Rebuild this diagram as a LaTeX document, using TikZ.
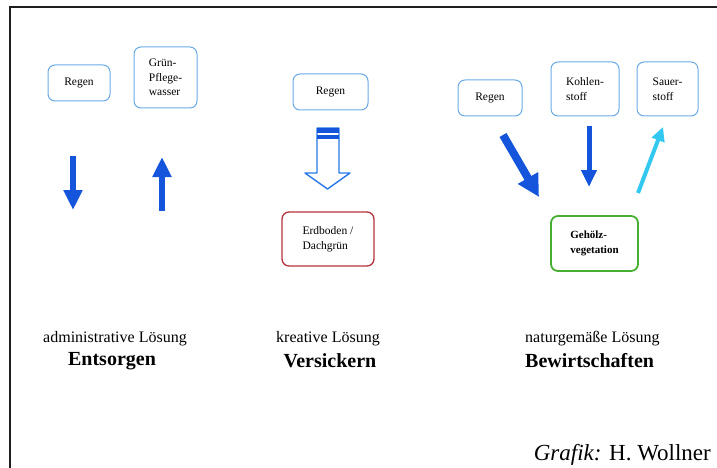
\documentclass[tikz,border=0pt]{standalone}
\usepackage{fontspec}
\setmainfont{Liberation Serif}
\usepackage{tikz}
\usetikzlibrary{arrows.meta}
\definecolor{framegray}{RGB}{30,30,30}
\definecolor{boxblue}{RGB}{105,170,230}
\definecolor{soilred}{RGB}{180,50,60}
\definecolor{woodgreen}{RGB}{70,175,50}
\definecolor{flowblue}{RGB}{20,85,220}
\definecolor{airblue}{RGB}{50,200,240}
\definecolor{seepblue}{RGB}{40,120,235}

\begin{document}
\begin{tikzpicture}[
  x=1pt, y=-1pt,
  box/.style={draw=boxblue, line width=1pt, rounded corners=7pt, align=left,
              inner sep=0pt, font=\fontsize{11.5}{14.5}\selectfont},
  soil/.style={box, draw=soilred, line width=1.3pt},
  wood/.style={box, draw=woodgreen, line width=1.8pt, font=\fontsize{11}{14.5}\selectfont\bfseries},
  kind/.style={font=\fontsize{16}{19}\selectfont},
  verb/.style={font=\fontsize{20}{23}\selectfont\bfseries},
  fatarr/.style={-{Triangle[width=18pt,length=20pt]}, line width=6pt, flowblue},
]
\useasboundingbox (0,0) rectangle (717,468);
\draw[line width=2pt, framegray] (717,7) -- (10,7) -- (10,468);

% Column 1 — Entsorgen
\node[box, minimum width=62pt, minimum height=36pt] (regenA) at (79,83) {Regen};
\node[box, minimum width=63pt, minimum height=61pt] (pflege) at (165.5,77.5) {Grün-\\Pflege-\\wasser};
\coordinate (outTop) at (73,156);
\coordinate (outBot) at (73,210);
\coordinate (inBot) at (162,211);
\coordinate (inTop) at (162,157);
\draw[fatarr] (outTop) -- (outBot);
\draw[fatarr] (inBot) -- (inTop);

% Column 2 — Versickern
\node[box, minimum width=75pt, minimum height=36pt] (regenB) at (330.5,92) {Regen};
\node[soil, minimum width=92pt, minimum height=54pt] (erdboden) at (328,239) {Erdboden /\\Dachgrün};
\draw[seepblue, line width=1.4pt, line join=round, fill=white]
  (317,128) -- (339,128) -- (339,173) -- (350,173) -- (327.5,189)
  -- (305,173) -- (317,173) -- cycle;
\fill[flowblue] (317,128) rectangle (339,133);
\fill[flowblue] (317,135.5) rectangle (339,138.5);

% Column 3 — Bewirtschaften
\node[box, minimum width=64pt, minimum height=36pt] (regenC) at (490,98) {Regen};
\node[box, minimum width=68pt, minimum height=54pt] (kohle) at (585,89) {Kohlen-\\stoff};
\node[box, minimum width=61pt, minimum height=54pt] (sauer) at (667.5,89) {Sauer-\\stoff};
\node[wood, minimum width=87pt, minimum height=55pt] (gehoelz) at (594.5,243.5) {Gehölz-\\vegetation};
\coordinate (rainTop) at (503,135);
\coordinate (rainTip) at (539,197);
\coordinate (cTop) at (589,126);
\coordinate (cTip) at (589,187);
\coordinate (oBot) at (638,193);
\coordinate (oTip) at (663,127);
\draw[-{Triangle[width=22pt,length=22pt]}, line width=8pt, flowblue] (rainTop) -- (rainTip);
\draw[-{Triangle[width=15pt,length=17pt]}, line width=5pt, flowblue] (cTop) -- (cTip);
\draw[-{Triangle[width=13pt,length=14pt]}, line width=4pt, airblue] (oBot) -- (oTip);

% Labels
\node[kind] (admin) at (115,339) {administrative Lösung};
\node[verb] (entsorgen) at (112,361) {Entsorgen};
\node[kind] (kreativ) at (328,339) {kreative Lösung};
\node[verb] (versickern) at (330,361) {Versickern};
\node[kind, anchor=west, inner sep=0pt] (natur) at (525,339) {naturgemäße Lösung};
\node[verb, anchor=west, inner sep=0pt] (bewirt) at (525,361) {Bewirtschaften};
\node[anchor=east, inner sep=0pt, font=\fontsize{23}{26}\selectfont] (credit) at (711,455) {\textit{Grafik:} H. Wollner};
\end{tikzpicture}
\end{document}
